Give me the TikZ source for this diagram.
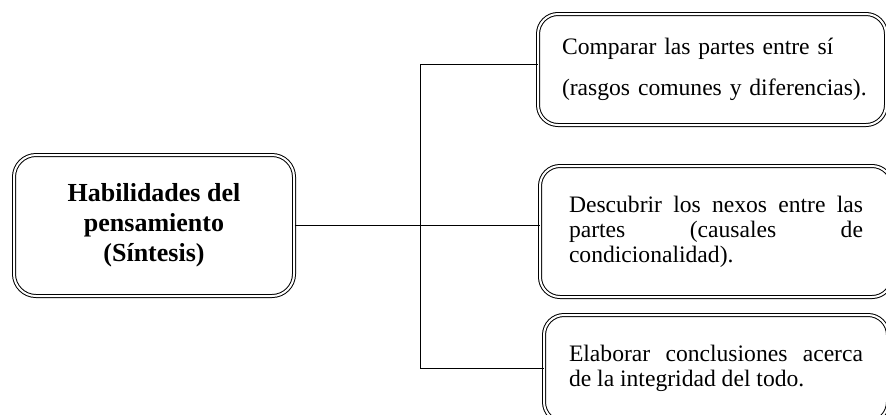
\documentclass[tikz,border=0pt]{standalone}
\usepackage{fontspec}
\setmainfont{Liberation Serif}
\usetikzlibrary{positioning}

\tikzset{
  skillbox/.style={draw=black, line width=0.5pt, double, double distance=1pt,
    rounded corners=11pt, inner sep=0pt},
  partbox/.style={skillbox, rounded corners=10pt, text width=147pt, align=justify,
    font=\fontsize{11.8}{12.5}\selectfont},
}

\begin{document}
\begin{tikzpicture}[x=0.5pt, y=-0.5pt]
\useasboundingbox (0,0) rectangle (886,414);

%% main box
\node[skillbox, minimum width=140pt, minimum height=70.5pt, align=center,
      font=\fontsize{13}{15}\selectfont\bfseries] (sintesis) at (154,225.5)
  {Habilidades del\\pensamiento\\(Síntesis)};

%% parts
\node[partbox, minimum width=174pt, minimum height=55.5pt, text width=150pt,
      font=\fontsize{11.8}{20.5}\selectfont, align=left] (comparar) at (712,69.5)
  {\mbox{Comparar las partes entre sí}\\\mbox{(rasgos comunes y diferencias).}\\[-4pt]};
\node[partbox, minimum width=176pt, minimum height=65.5pt] (descubrir) at (716,231.5)
  {Descubrir los nexos entre las\linebreak partes (causales de\linebreak condicionalidad).};
\node[partbox, minimum width=172pt, minimum height=53.5pt] (elaborar) at (716,368.5)
  {Elaborar conclusiones acerca\linebreak de la integridad del todo.};

% lines
\coordinate (fork) at (420,225.5);
\draw (sintesis.east) -- (fork);
\draw ([yshift=2.75pt]comparar.west) -| (fork) |- (elaborar.west);
\draw (fork) -- (fork -| descubrir.west);

\end{tikzpicture}
\end{document}
